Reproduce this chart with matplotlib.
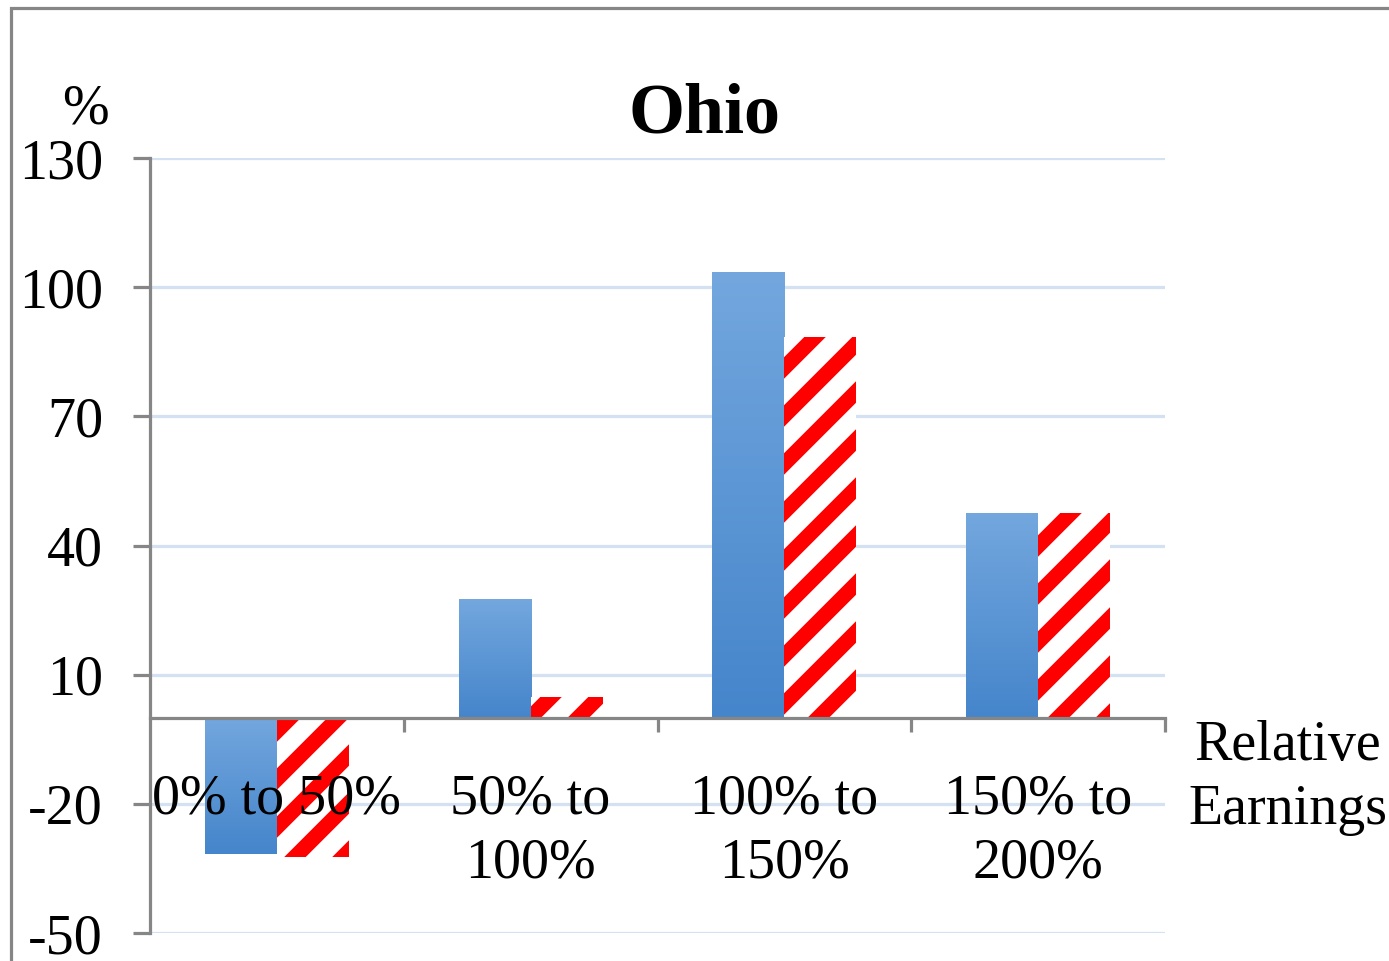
import numpy as np
import matplotlib
matplotlib.use("Agg")
import matplotlib.pyplot as plt
from matplotlib.colors import LinearSegmentedColormap
from matplotlib.patches import Rectangle

categories = ["0% to 50%", "50% to\n100%", "100% to\n150%", "150% to\n200%"]
blue_vals = [-31.7, 27.6, 103.4, 47.6]
red_vals = [-32.3, 4.7, 88.5, 47.6]
yticks = [-50, -20, 10, 40, 70, 100, 130]

GRID = "#d3e1f2"
AXIS = "#868686"
RED = "#ff0000"

DPI = 288   # hatch spacing scales with dpi
W, H = 1389, 961
plt.rcParams.update({"font.family": "Liberation Serif", "hatch.linewidth": 3.8,
                     "axes.unicode_minus": False})

fig = plt.figure(figsize=(W / DPI, H / DPI), dpi=DPI)
ax = fig.add_axes([150 / W, 1 - 933 / H, (1165 - 150) / W, (933 - 158) / H])

bw = 0.284
xs = np.arange(len(categories))
blue_cmap = LinearSegmentedColormap.from_list("bl", ["#4585cb", "#73a7de"])
grad = np.linspace(0, 1, 256).reshape(-1, 1)
for x, v in zip(xs, blue_vals):
    ax.imshow(grad, cmap=blue_cmap, origin="lower", aspect="auto",
              extent=(x - bw, x, min(0, v), max(0, v)), zorder=1,
              interpolation="bilinear")
ax.bar(xs + bw / 2, red_vals, width=bw, facecolor="white", edgecolor=RED,
       linewidth=0, hatch="//", zorder=1)

ax.set_xlim(-0.5, len(categories) - 0.5)
ax.set_ylim(-50, 130)
ax.set_yticks(yticks)
ax.set_axisbelow(True)
ax.grid(axis="y", color=GRID, lw=0.8)
ax.xaxis.set_zorder(3)   # category labels sit on top of the bars

for s in ("top", "right"):
    ax.spines[s].set_visible(False)
ax.spines["left"].set_color(AXIS)
ax.spines["left"].set_linewidth(0.8)
ax.spines["bottom"].set_position(("data", 0))
ax.spines["bottom"].set_color(AXIS)
ax.spines["bottom"].set_linewidth(0.8)

ax.set_xticks(xs, categories)
ax.set_xticks(np.arange(0.5, len(categories)), minor=True)
ax.tick_params(axis="x", which="major", length=0, pad=14, labelsize=14)
ax.tick_params(axis="x", which="minor", length=3.5, width=0.8, color=AXIS,
               direction="out")
ax.tick_params(axis="y", length=4.25, width=0.8, color=AXIS, pad=7.5,
               labelsize=14)
for t in ax.get_xticklabels():
    t.set_linespacing(1.3)
for t in ax.get_yticklabels():
    t.set_verticalalignment("center_baseline")

fig.text(704 / W, 1 - 115 / H, "Ohio", ha="center", va="center",
         fontsize=18, fontweight="bold")
fig.text(85 / W, 1 - 110 / H, "%", ha="center", va="center", fontsize=14)
fig.text(1288 / W, 1 - 778 / H, "Relative\nEarnings", ha="center",
         va="center", fontsize=14, linespacing=1.3)

# grey frame around the whole chart
fig.patches.append(Rectangle((11 / W, -0.1), 1.2, 1 - 8 / H + 0.1,
                             transform=fig.transFigure, fill=False,
                             edgecolor=AXIS, lw=0.8))

fig.savefig("out.png", dpi=DPI)
